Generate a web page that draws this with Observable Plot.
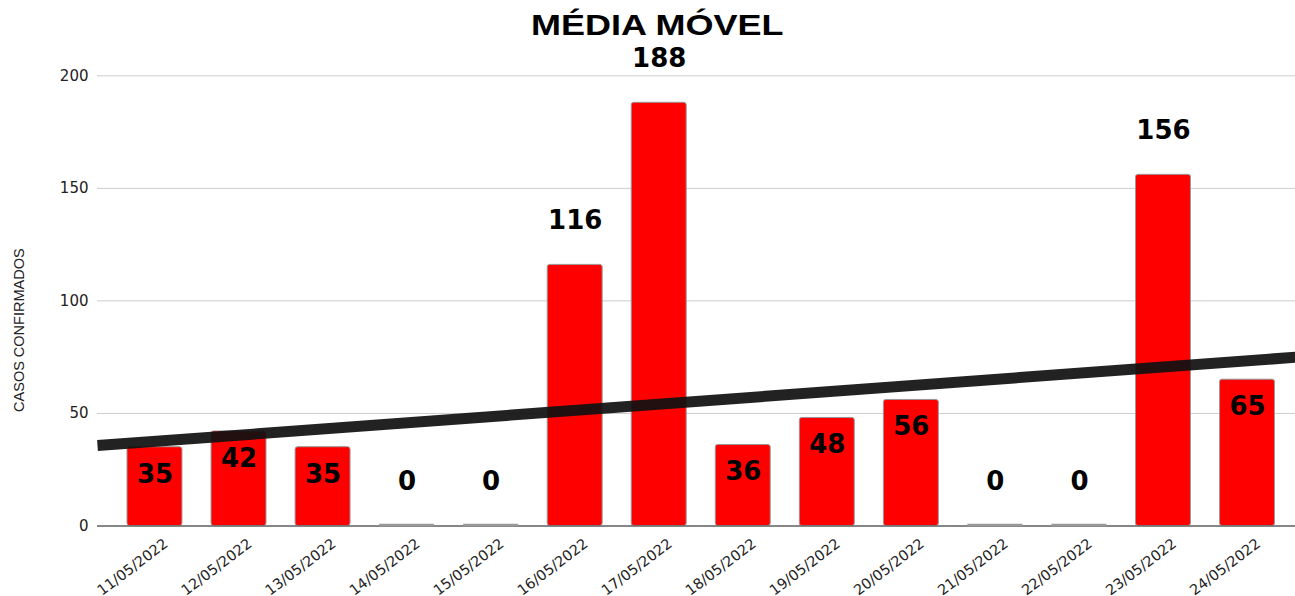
<!DOCTYPE html>
<html>
<head>
<meta charset="utf-8">
<script src="https://cdn.jsdelivr.net/npm/d3@7"></script>
<script src="https://cdn.jsdelivr.net/npm/@observablehq/plot@0.6"></script>
<style>
  html, body { margin: 0; padding: 0; background: #fff; }
  #title { position: relative; z-index: 2; width: 1275px; padding-left: 20px; height: 20px; line-height: 50px; text-align: center; }
  #title span { display: inline-block; transform: scaleX(1.2); font-family: "Liberation Sans", Arial, sans-serif; font-weight: bold; font-size: 30px; color: #000; }
  #chart svg { overflow: visible; }
</style>
</head>
<body>
<div id="title"><span>MÉDIA MÓVEL</span></div>
<div id="chart"></div>
<script>
const dates = ["11/05/2022","12/05/2022","13/05/2022","14/05/2022","15/05/2022","16/05/2022","17/05/2022","18/05/2022","19/05/2022","20/05/2022","21/05/2022","22/05/2022","23/05/2022","24/05/2022"];
const values = [35, 42, 35, 0, 0, 116, 188, 36, 48, 56, 0, 0, 156, 65];
const yTicks = [0, 50, 100, 150, 200];
const yLabel = "CASOS CONFIRMADOS";

const data = values.map((v, i) => ({i, date: dates[i], value: v, outside: v === 0 || v > 100}));

// least-squares trend line
const n = values.length;
const mx = d3.mean(data, d => d.i), my = d3.mean(values);
const slope = d3.sum(data, d => (d.i - mx) * (d.value - my)) / d3.sum(data, d => (d.i - mx) ** 2);
const intercept = my - slope * mx;
const xDomain = [-0.684, 13.571];
const trend = xDomain.map(x => ({x, y: intercept + slope * x}));

const half = 0.327;
const font = "DejaVu Sans, sans-serif";

const chart = Plot.plot({
  width: 1295,
  height: 576,
  marginTop: 55.3,
  marginBottom: 70.5,
  marginLeft: 97,
  marginRight: 0,
  style: {fontFamily: font, background: "transparent"},
  x: {type: "linear", domain: xDomain},
  y: {domain: [0, 200]},
  marks: [
    Plot.gridY(yTicks, {stroke: "#cccccc", strokeOpacity: 1, strokeWidth: 1}),
    Plot.axisY(yTicks, {tickSize: 0, tickPadding: 9, fontSize: 15, fill: "#222", label: null}),
    Plot.text([yLabel], {x: xDomain[0], y: () => 87, rotate: -90, dx: -78, fontSize: 14.5, fontFamily: "Liberation Sans, Arial, sans-serif", fill: "#222"}),
    Plot.axisX(d3.range(n), {tickFormat: i => dates[i], tickRotate: -37, tickSize: 0, tickPadding: 16, dx: 11, fontSize: 14.5, fill: "#222", label: null}),
    Plot.rectY(data, {x1: d => d.i - half, x2: d => d.i + half, y: "value", fill: "#ff0000", stroke: "#999", strokeWidth: 1, rx: 2.5, inset: 0}),
    Plot.ruleY([0], {stroke: "#666", strokeWidth: 1.5}),
    Plot.ruleY(data.filter(d => d.value === 0), {x1: d => d.i - half, x2: d => d.i + half, y: 0, stroke: "#999", strokeWidth: 2.5, dy: -1}),
    Plot.line(trend, {x: "x", y: "y", stroke: "#111", strokeWidth: 11, strokeOpacity: 0.93, strokeLinecap: "butt"}),
    Plot.text(data.filter(d => d.outside), {x: "i", y: "value", text: d => String(d.value), dy: -44.5, fontSize: 26, fontWeight: "bold", fill: "#000"}),
    Plot.text(data.filter(d => !d.outside), {x: "i", y: "value", text: d => String(d.value), dy: 27, fontSize: 26, fontWeight: "bold", fill: "#000"})
  ]
});
document.getElementById("chart").appendChild(chart);
</script>
</body>
</html>
